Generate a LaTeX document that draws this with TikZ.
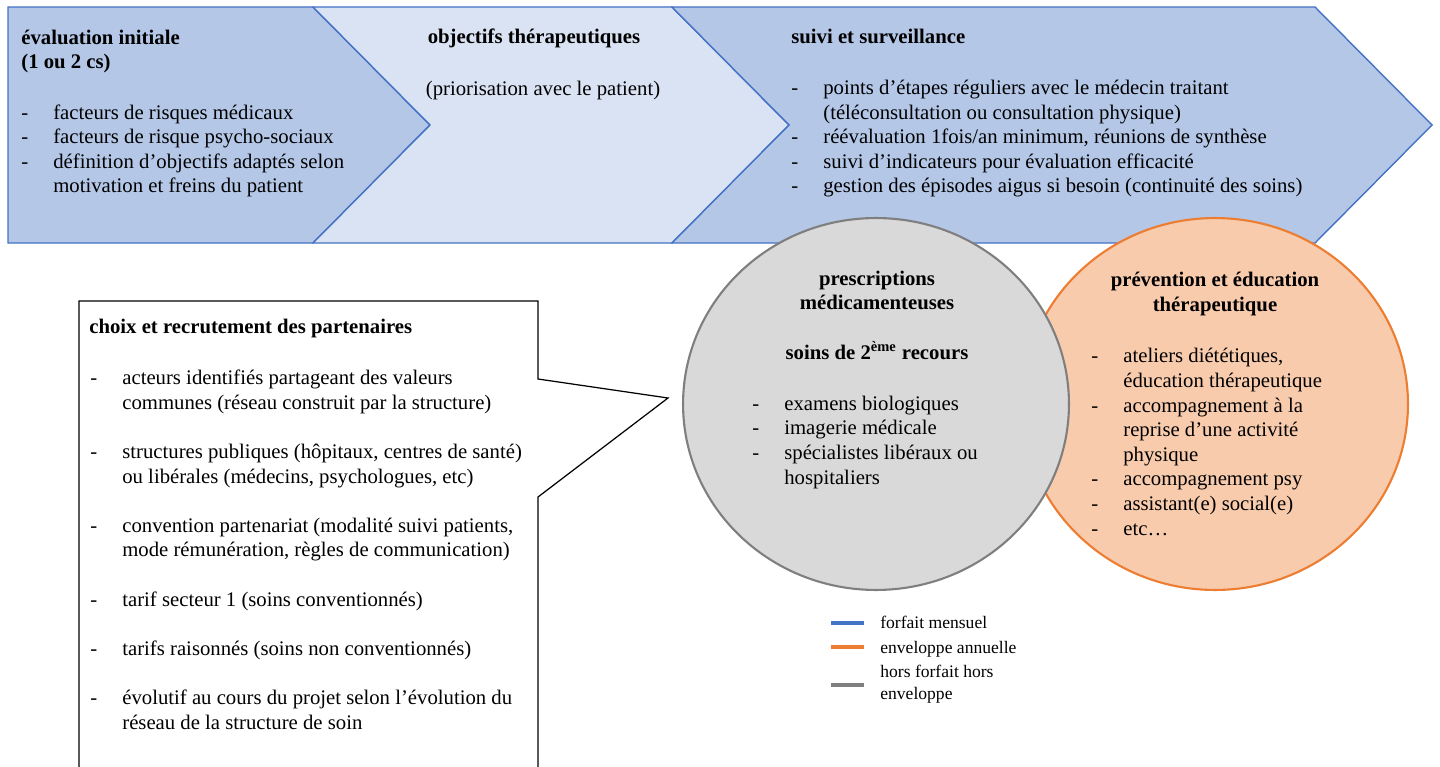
\documentclass[tikz,border=0pt]{standalone}
\usepackage{fontspec}
\setmainfont{Liberation Serif}
\usepackage{xcolor}
\usepackage{tikz}
\usetikzlibrary{positioning}
\definecolor{bluec}{HTML}{4472C4}
\definecolor{bluebg}{HTML}{B4C7E7}
\definecolor{palebg}{HTML}{DAE3F3}
\definecolor{greyc}{HTML}{7F7F7F}
\definecolor{greybg}{HTML}{D9D9D9}
\definecolor{orc}{HTML}{ED7D31}
\definecolor{orbg}{HTML}{F8CBAD}
\newcommand{\itm}{\makebox[0.64cm][l]{-}}
\newcommand{\ind}{\hspace*{0.64cm}}
\tikzset{
  chev/.style={draw=bluec,line width=0.8pt,line join=miter},
  blob/.style={line width=1.2pt},
  txt/.style={inner sep=0pt,align=left,font=\fontsize{11.8}{14}\selectfont},
  hd/.style={inner sep=0pt,align=center,font=\fontsize{11.8}{14}\selectfont\bfseries},
  lg/.style={inner sep=0pt,align=left,font=\fontsize{10}{12.3}\selectfont},
  key/.style={line width=1.8pt}
}
\begin{document}
\begin{tikzpicture}[x=0.02cm,y=-0.02cm]
\useasboundingbox (0,0) rectangle (1440,767);
\draw[chev,fill=bluebg] (8,7) -- (313,7) -- (430,125) -- (313,243) -- (8,243) -- cycle;
\draw[chev,fill=palebg] (313,7) -- (672,7) -- (789,125) -- (672,243) -- (313,243) -- (430,125) -- cycle;
\draw[chev,fill=bluebg] (672,7) -- (1315,7) -- (1432,125) -- (1315,243) -- (672,243) -- (789,125) -- cycle;

% multi-line nodes sit on the baseline of their last line
\node[hd,align=left,anchor=base west] (evalh) at (21,68.7) {évaluation initiale\\(1 ou 2 cs)};
\node[txt,anchor=base west] (evall) at (21,193) {\itm facteurs de risques médicaux\\
  \itm facteurs de risque psycho-sociaux\\
  \itm définition d’objectifs adaptés selon\\
  \ind motivation et freins du patient};

\node[hd,anchor=base] (objh) at (534,44) {objectifs thérapeutiques};
\node[txt,anchor=base] (objl) at (543,95) {(priorisation avec le patient)};

\node[hd,anchor=base west] (suivh) at (791,44) {suivi et surveillance};
\node[txt,anchor=base west] (suivl) at (791,193) {\itm points d’étapes réguliers avec le médecin traitant\\
  \ind (téléconsultation ou consultation physique)\\
  \itm réévaluation 1fois/an minimum, réunions de synthèse\\
  \itm suivi d’indicateurs pour évaluation efficacité\\
  \itm gestion des épisodes aigus si besoin (continuité des soins)};

\draw[blob,draw=orc,fill=orbg] (1215,404) ellipse [x radius=3.86cm,y radius=3.72cm];
\draw[blob,draw=greyc,fill=greybg] (876,404) ellipse [x radius=3.86cm,y radius=3.72cm];

\node[hd,anchor=base] (presh) at (877,359) {prescriptions\\médicamenteuses\\[14pt]soins de 2\textsuperscript{ème} recours};
\node[txt,anchor=base west] (presl) at (752,484) {\itm examens biologiques\\
  \itm imagerie médicale\\
  \itm spécialistes libéraux ou\\
  \ind hospitaliers};

\node[hd,anchor=base] (prevh) at (1215,311) {prévention et éducation\\thérapeutique};
\node[txt,anchor=base west] (prevl) at (1091,535) {\itm ateliers diététiques,\\
  \ind éducation thérapeutique\\
  \itm accompagnement à la\\
  \ind reprise d’une activité\\
  \ind physique\\
  \itm accompagnement psy\\
  \itm assistant(e) social(e)\\
  \itm etc…};

\draw[line width=0.7pt,fill=white] (79,767) -- (79,301) -- (538,301) -- (538,379) -- (668,398) -- (538,497) -- (538,767);
\node[hd,anchor=base west] (parth) at (89,333) {choix et recrutement des partenaires};
\node[txt,anchor=base west] (partl) at (90,729) {\itm acteurs identifiés partageant des valeurs\\
  \ind communes (réseau construit par la structure)\\[14pt]
  \itm structures publiques (hôpitaux, centres de santé)\\
  \ind ou libérales (médecins, psychologues, etc)\\[14pt]
  \itm convention partenariat (modalité suivi patients,\\
  \ind mode rémunération, règles de communication)\\[14pt]
  \itm tarif secteur 1 (soins conventionnés)\\[14pt]
  \itm tarifs raisonnés (soins non conventionnés)\\[14pt]
  \itm évolutif au cours du projet selon l’évolution du\\
  \ind réseau de la structure de soin};

\node[lg,anchor=base west] (lg1) at (880,628) {forfait mensuel};
\node[lg,anchor=base west] (lg2) at (880,653) {enveloppe annuelle};
\node[lg,anchor=base west] (lg3) at (880,699) {hors forfait hors\\enveloppe};
\foreach \c/\y in {bluec/623,orc/647,greyc/685}
  \draw[key,\c] (831,\y) -- (864,\y);
\end{tikzpicture}
\end{document}
